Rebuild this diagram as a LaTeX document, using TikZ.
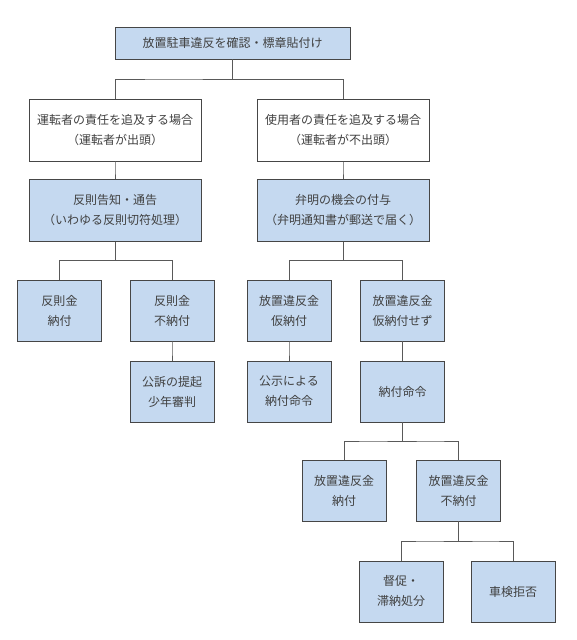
\documentclass[tikz,border=0pt]{standalone}
\usepackage{fontspec}
\setmainfont{Noto Sans CJK JP}
\usetikzlibrary{positioning,calc}
\definecolor{boxblue}{RGB}{197,217,240}
\definecolor{boxline}{RGB}{70,70,70}

\begin{document}
\begin{tikzpicture}
  [x=1pt,y=-1pt,
   every node/.style={rectangle,draw=boxline,line width=0.8pt,align=center,
     inner sep=0pt,font=\fontsize{12}{20}\selectfont,text=black!75},
   blue/.style={fill=boxblue},
   wide/.style={minimum width=172pt,minimum height=62pt},
   small/.style={minimum width=84pt,minimum height=61pt}]
  \useasboundingbox (0,0) rectangle (576,640);

  \node[blue,minimum width=235pt,minimum height=32pt] (top) at (232.5,43) {放置駐車違反を確認・標章貼付け};
  \node[wide,fill=white] (drv) at (115,130) {運転者の責任を追及する場合\\（運転者が出頭）};
  \node[wide,fill=white] (usr) at (343,130.5) {使用者の責任を追及する場合\\（運転者が不出頭）};
  \node[wide,blue] (tic) at (115,210.5) {反則告知・通告\\（いわゆる反則切符処理）};
  \node[wide,blue] (ben) at (343,210.5) {弁明の機会の付与\\（弁明通知書が郵送で届く）};
  \node[small,blue] (hpay) at (59.5,310.5) {反則金\\納付};
  \node[small,blue] (hnon) at (172,310.5) {反則金\\不納付};
  \node[small,blue] (prs) at (172,391.5) {公訴の提起\\少年審判};
  \node[small,blue] (kpay) at (289,310.5) {放置違反金\\仮納付};
  \node[small,blue] (knon) at (402.5,310.5) {放置違反金\\仮納付せず};
  \node[small,blue] (pub) at (289,391.5) {公示による\\納付命令};
  \node[small,blue] (ord) at (402.5,391.5) {納付命令};
  \node[small,blue] (fpay) at (344,490.5) {放置違反金\\納付};
  \node[small,blue] (fnon) at (458.5,490.5) {放置違反金\\不納付};
  \node[small,blue] (tok) at (401,591.5) {督促・\\滞納処分};
  \node[small,blue] (shk) at (513,591.5) {車検拒否};

  \foreach \from/\to in {top/drv, top/usr, drv/tic, usr/ben, tic/hpay, tic/hnon,
      hnon/prs, ben/kpay, ben/knon, kpay/pub, knon/ord, ord/fpay, ord/fnon,
      fnon/tok, fnon/shk}
    \draw[black!65,line width=0.9pt] (\from.south) |- ($(\from.south)!.5!(\to.north)$) -| (\to.north);
\end{tikzpicture}
\end{document}
